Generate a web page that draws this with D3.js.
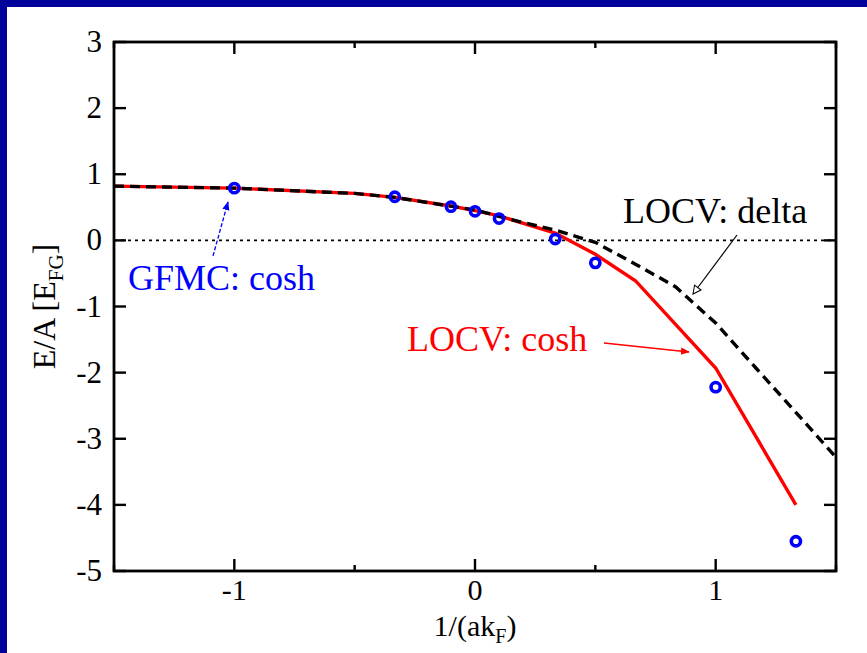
<!DOCTYPE html>
<html>
<head>
<meta charset="utf-8">
<script src="https://cdn.jsdelivr.net/npm/d3@7"></script>
<style>
  html, body { margin: 0; padding: 0; background: #fff; }
  svg { display: block; }
</style>
</head>
<body>
<svg id="chart" width="867" height="653" font-family="'Liberation Serif', 'DejaVu Serif', serif"></svg>
<script>
// Energy per particle vs. coupling 1/(a k_F)
const xTicks = [-1, 0, 1];
const xMinorTicks = [-1.5, -0.5, 0.5, 1.5];
const yTicks = [-5, -4, -3, -2, -1, 0, 1, 2, 3];

// GFMC results (cosh potential)
const gfmcX = [-1, -1/3, -0.1, 0, 0.1, 1/3, 0.5, 1, 4/3];
const gfmcY = [0.79, 0.66, 0.51, 0.44, 0.33, 0.02, -0.34, -2.22, -4.55];

// LOCV, cosh potential
const coshX = [-1.5, -1, -0.5, -1/3, -0.1, 0, 0.1, 1/3, 0.5, 2/3, 1, 4/3];
const coshY = [0.82, 0.79, 0.71, 0.65, 0.52, 0.45, 0.37, 0.11, -0.21, -0.61, -1.93, -4.0];

// LOCV, delta-function potential
const deltaX = [-1.5, -1, -0.5, -1/3, 0, 0.177, 1/3, 0.5, 2/3, 0.833, 1, 1.167, 1.333, 1.5];
const deltaY = [0.82, 0.79, 0.71, 0.65, 0.46, 0.29, 0.155, -0.03, -0.36, -0.7, -1.25, -1.93, -2.6, -3.28];

const svg = d3.select("#chart");
const W = 867, H = 653;
const frame = { left: 114, right: 836, top: 42, bottom: 571 };
const navy = "#00009a";
const serif = "'Liberation Serif', 'DejaVu Serif', serif";

// page background with the slide border on top and left
svg.append("rect").attr("width", W).attr("height", H).attr("fill", navy);
svg.append("rect").attr("x", 7).attr("y", 7).attr("width", W - 7).attr("height", H - 7).attr("fill", "#fff");

const x = d3.scaleLinear().domain([-1.5, 1.5]).range([frame.left, frame.right]);
const y = d3.scaleLinear().domain([-5, 3]).range([frame.bottom, frame.top]);

const defs = svg.append("defs");
defs.append("marker").attr("id", "headBlue").attr("viewBox", "0 0 10 10")
  .attr("refX", 9).attr("refY", 5).attr("markerWidth", 9).attr("markerHeight", 9)
  .attr("markerUnits", "userSpaceOnUse").attr("orient", "auto")
  .append("path").attr("d", "M0,1 L10,5 L0,9 z").attr("fill", "#0000ff");
defs.append("marker").attr("id", "headRed").attr("viewBox", "0 0 10 10")
  .attr("refX", 9).attr("refY", 5).attr("markerWidth", 9).attr("markerHeight", 9)
  .attr("markerUnits", "userSpaceOnUse").attr("orient", "auto")
  .append("path").attr("d", "M0,1 L10,5 L0,9 z").attr("fill", "#ff0000");
defs.append("marker").attr("id", "headOpen").attr("viewBox", "0 0 10 10")
  .attr("refX", 9).attr("refY", 5).attr("markerWidth", 10).attr("markerHeight", 10)
  .attr("markerUnits", "userSpaceOnUse").attr("orient", "auto")
  .append("path").attr("d", "M1,1 L9,5 L1,9 z").attr("fill", "#fff").attr("stroke", "#000").attr("stroke-width", 1);

const clip = defs.append("clipPath").attr("id", "plotClip");
clip.append("rect").attr("x", frame.left).attr("y", frame.top)
  .attr("width", frame.right - frame.left).attr("height", frame.bottom - frame.top);

// zero reference line
svg.append("line")
  .attr("x1", frame.left).attr("x2", frame.right)
  .attr("y1", y(0)).attr("y2", y(0))
  .attr("stroke", "#000").attr("stroke-width", 1.6).attr("stroke-dasharray", "3,4");

const line = d3.line().x(d => x(d[0])).y(d => y(d[1]));
const plot = svg.append("g").attr("clip-path", "url(#plotClip)");

plot.append("path")
  .datum(d3.zip(coshX, coshY))
  .attr("d", line).attr("fill", "none")
  .attr("stroke", "#ff0000").attr("stroke-width", 3.4);

plot.append("path")
  .datum(d3.zip(deltaX, deltaY))
  .attr("d", line).attr("fill", "none")
  .attr("stroke", "#000").attr("stroke-width", 3.4).attr("stroke-dasharray", "10,6");

plot.selectAll("circle.gfmc")
  .data(d3.zip(gfmcX, gfmcY)).join("circle")
  .attr("class", "gfmc")
  .attr("cx", d => x(d[0])).attr("cy", d => y(d[1])).attr("r", 4.6)
  .attr("fill", "none").attr("stroke", "#0000ff").attr("stroke-width", 3.6);

// axes: inward ticks on all four sides
const tickFont = "30px";
const axes = svg.append("g");
function ticksOn(side, values, len) {
  values.forEach(v => {
    if (side === "bottom") axes.append("line").attr("x1", x(v)).attr("x2", x(v)).attr("y1", frame.bottom).attr("y2", frame.bottom - len);
    if (side === "top") axes.append("line").attr("x1", x(v)).attr("x2", x(v)).attr("y1", frame.top).attr("y2", frame.top + len);
    if (side === "left") axes.append("line").attr("y1", y(v)).attr("y2", y(v)).attr("x1", frame.left).attr("x2", frame.left + len);
    if (side === "right") axes.append("line").attr("y1", y(v)).attr("y2", y(v)).attr("x1", frame.right).attr("x2", frame.right - len);
  });
}
ticksOn("bottom", xTicks, 12);
ticksOn("top", xTicks, 12);
ticksOn("bottom", xMinorTicks, 6);
ticksOn("top", xMinorTicks, 6);
ticksOn("left", yTicks, 12);
ticksOn("right", yTicks, 12);
axes.selectAll("line").attr("stroke", "#000").attr("stroke-width", 2.4);
axes.append("rect")
  .attr("x", frame.left).attr("y", frame.top)
  .attr("width", frame.right - frame.left).attr("height", frame.bottom - frame.top)
  .attr("fill", "none").attr("stroke", "#000").attr("stroke-width", 2.8);

svg.selectAll("text.xt").data(xTicks).join("text")
  .attr("class", "xt")
  .attr("x", d => x(d)).attr("y", 600)
  .attr("text-anchor", "middle").attr("font-size", tickFont).attr("font-family", serif)
  .text(d => d);

svg.selectAll("text.yt").data(yTicks).join("text")
  .attr("class", "yt")
  .attr("x", 102).attr("y", d => y(d) + 10)
  .attr("text-anchor", "end").attr("font-size", "31px").attr("font-family", serif)
  .text(d => d);

// axis titles
const xt = svg.append("text").attr("x", x(0)).attr("y", 636)
  .attr("text-anchor", "middle").attr("font-size", "30px").attr("font-family", serif);
xt.append("tspan").text("1/(ak");
xt.append("tspan").attr("font-size", "20px").attr("dy", 7).text("F");
xt.append("tspan").attr("dy", -7).text(")");

const yt = svg.append("text")
  .attr("transform", `translate(55, ${(frame.top + frame.bottom) / 2}) rotate(-90)`)
  .attr("text-anchor", "middle").attr("font-size", "32px").attr("font-family", serif);
yt.append("tspan").text("E/A [E");
yt.append("tspan").attr("font-size", "21px").attr("dy", 8).text("FG");
yt.append("tspan").attr("dy", -8).text("]");

// annotations
svg.append("text").attr("x", 128).attr("y", 290).attr("font-family", serif)
  .attr("font-size", "36px").attr("fill", "#0000ff").text("GFMC: cosh");
svg.append("line").attr("x1", 213).attr("y1", 256).attr("x2", 228).attr("y2", 202)
  .attr("stroke", "#0000ff").attr("stroke-width", 1.3).attr("stroke-dasharray", "4,2")
  .attr("marker-end", "url(#headBlue)");

svg.append("text").attr("x", 623).attr("y", 223).attr("font-family", serif)
  .attr("font-size", "36px").attr("fill", "#000").text("LOCV: delta");
svg.append("line").attr("x1", 737).attr("y1", 235).attr("x2", 693).attr("y2", 294)
  .attr("stroke", "#000").attr("stroke-width", 1.2)
  .attr("marker-end", "url(#headOpen)");

svg.append("text").attr("x", 407).attr("y", 351).attr("font-family", serif)
  .attr("font-size", "36px").attr("fill", "#ff0000").text("LOCV: cosh");
svg.append("line").attr("x1", 604).attr("y1", 343).attr("x2", 689).attr("y2", 352)
  .attr("stroke", "#ff0000").attr("stroke-width", 1.5)
  .attr("marker-end", "url(#headRed)");
</script>
</body>
</html>
